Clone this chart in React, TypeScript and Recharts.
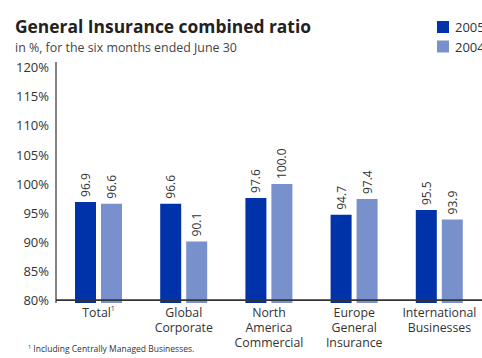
import React from 'react';
import { BarChart, Bar, XAxis, YAxis, ReferenceLine, LabelList } from 'recharts';

const categories = ['Total', 'Global Corporate', 'North America Commercial', 'Europe General Insurance', 'International Businesses'];
const tickLines: string[][] = [['Total'], ['Global', 'Corporate'], ['North', 'America', 'Commercial'], ['Europe', 'General', 'Insurance'], ['International', 'Businesses']];
const values2005 = [96.9, 96.6, 97.6, 94.7, 95.5];
const values2004 = [96.6, 90.1, 100.0, 97.4, 93.9];
const yTicks = [80, 85, 90, 95, 100, 105, 110, 115, 120];
const seriesNames = ['2005', '2004'];

const data = categories.map((c, i) => ({ name: c, idx: i, v2005: values2005[i], v2004: values2004[i] }));

const C2005 = '#0033aa';
const C2004 = '#7890cc';
const FONT = '"Open Sans", sans-serif';

const XTick = (props: any) => {
  const { x, payload } = props;
  const lines = tickLines[payload.index] || [String(payload.value)];
  return (
    <g>
      {lines.map((l, i) => (
        <text key={i} x={x} y={317 + i * 15} textAnchor="middle" fontSize={12.3} fill="#333" fontFamily={FONT}>
          {l}
          {payload.index === 0 && i === 0 ? <tspan fontSize={7} dy={-6}>1</tspan> : null}
        </text>
      ))}
    </g>
  );
};

const BarLabel = (props: any) => {
  const { x, y, width, value } = props;
  const cx = x + width / 2;
  const ty = y - 5;
  return (
    <text x={cx} y={ty} transform={`rotate(-90 ${cx} ${ty})`} textAnchor="start" dominantBaseline="central" fontSize={12} fill="#333" fontFamily={FONT}>
      {Number(value).toFixed(1)}
    </text>
  );
};

export default function App() {
  return (
    <div style={{ position: 'absolute', left: 0, top: 0, width: 482, height: 358, background: '#fff' }}>
      <BarChart width={482} height={358} data={data} margin={{ top: 62, right: 0, bottom: 0, left: 0 }} barSize={21} barGap={5}>
        <YAxis
          type="number"
          domain={[79.5, 121]}
          ticks={yTicks}
          allowDataOverflow
          width={56}
          tickSize={0}
          tickMargin={7}
          tickFormatter={(v: number) => `${v}%`}
          tick={{ fontSize: 13, fill: '#333', fontFamily: FONT }}
          axisLine={{ stroke: '#333', strokeWidth: 1.2 }}
          interval={0}
        />
        <XAxis dataKey="name" height={55} axisLine={false} tickLine={false} tick={<XTick />} interval={0} />
        <Bar dataKey="v2005" fill={C2005} isAnimationActive={false}>
          <LabelList dataKey="v2005" content={<BarLabel />} />
        </Bar>
        <Bar dataKey="v2004" fill={C2004} isAnimationActive={false}>
          <LabelList dataKey="v2004" content={<BarLabel />} />
        </Bar>
        <ReferenceLine y={80} stroke="#333" strokeWidth={1.6} ifOverflow="extendDomain" />
      </BarChart>
      <svg width={482} height={358} style={{ position: 'absolute', left: 0, top: 0, pointerEvents: 'none' }}>
        <text x={15} y={33} fontSize={17.4} fontWeight="bold" fill="#222" fontFamily={FONT}>General Insurance combined ratio</text>
        <text x={15} y={51.5} fontSize={12.4} fill="#444" fontFamily={FONT}>in %, for the six months ended June 30</text>
        <rect x={437} y={21} width={12} height={12} fill={C2005} />
        <text x={455} y={32} fontSize={13} fill="#333" fontFamily={FONT}>{seriesNames[0]}</text>
        <rect x={437} y={40.5} width={12} height={12} fill={C2004} />
        <text x={455} y={51.5} fontSize={13} fill="#333" fontFamily={FONT}>{seriesNames[1]}</text>
        <text x={28} y={352} fontSize={8.5} fill="#333" fontFamily={FONT}>
          <tspan fontSize={5.5} dy={-3}>1</tspan>
          <tspan dy={3}> Including Centrally Managed Businesses.</tspan>
        </text>
      </svg>
    </div>
  );
}
